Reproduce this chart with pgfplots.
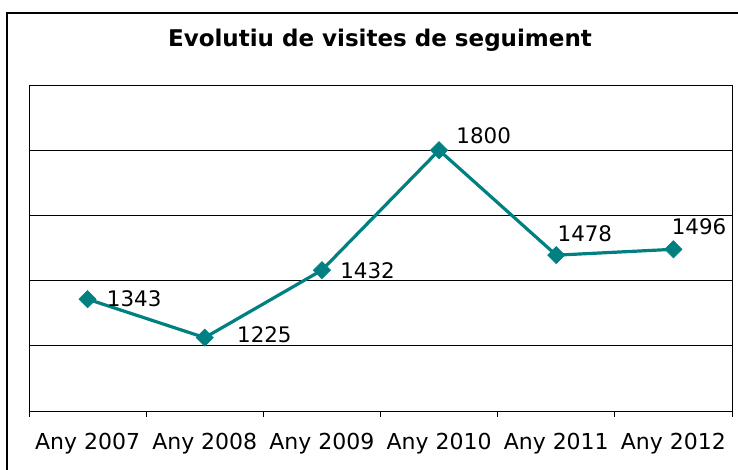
\documentclass[border=0pt]{standalone}
\usepackage{pgfplots}
\pgfplotsset{compat=1.18}
\usepackage{fontspec}
\setmainfont{DejaVu Sans}
\definecolor{teal}{HTML}{008080}
\begin{document}
\begin{tikzpicture}
\useasboundingbox (0,0) rectangle (369pt,235pt);
\draw[line width=1pt] (3.5pt,0) -- (3.5pt,228.5pt) -- (369pt,228.5pt);
\node[font=\bfseries\fontsize{11.5}{13}\selectfont] at (190pt,215pt) {Evolutiu de visites de seguiment};
\begin{axis}[
  at={(14.5pt,29.5pt)}, anchor=south west,
  scale only axis, width=351.5pt, height=163pt,
  xmin=-0.5, xmax=5.5, ymin=1000, ymax=2000,
  xtick={0,...,5},
  xticklabels={Any 2007,Any 2008,Any 2009,Any 2010,Any 2011,Any 2012},
  minor xtick={-0.5,0.5,...,5.5},
  xtick pos=lower,
  major x tick style={draw=none},
  minor x tick style={black, thin},
  minor tick length=3pt,
  tick align=outside,
  ytick={1000,1200,...,2000},
  yticklabels={},
  major y tick style={draw=none},
  ymajorgrids,
  y grid style={black, thin},
  axis line style={black, thin},
  xticklabel style={font=\fontsize{11}{13}\selectfont, yshift=-3.5pt},
  clip=false,
]
\addplot[teal, line width=1.6pt, mark=square*, mark size=3pt, mark options={fill=teal, line width=0.4pt, rotate=45}]
  coordinates {(0,1343) (1,1225) (2,1432) (3,1800) (4,1478) (5,1496)};
\begin{scope}[every node/.style={anchor=west, font=\fontsize{10.7}{12}\selectfont, inner sep=0pt}]
\node at (axis cs:0,1343) [xshift=9.5pt] {1343};
\node at (axis cs:1,1225) [xshift=16pt, yshift=1.5pt] {1225};
\node at (axis cs:2,1432) [xshift=9pt, yshift=-0.5pt] {1432};
\node at (axis cs:3,1800) [xshift=8.5pt, yshift=7.25pt] {1800};
\node at (axis cs:4,1478) [xshift=0.5pt, yshift=10.75pt] {1478};
\node at (axis cs:5,1496) [xshift=-1pt, yshift=11.25pt] {1496};
\end{scope}
\end{axis}
\end{tikzpicture}
\end{document}
